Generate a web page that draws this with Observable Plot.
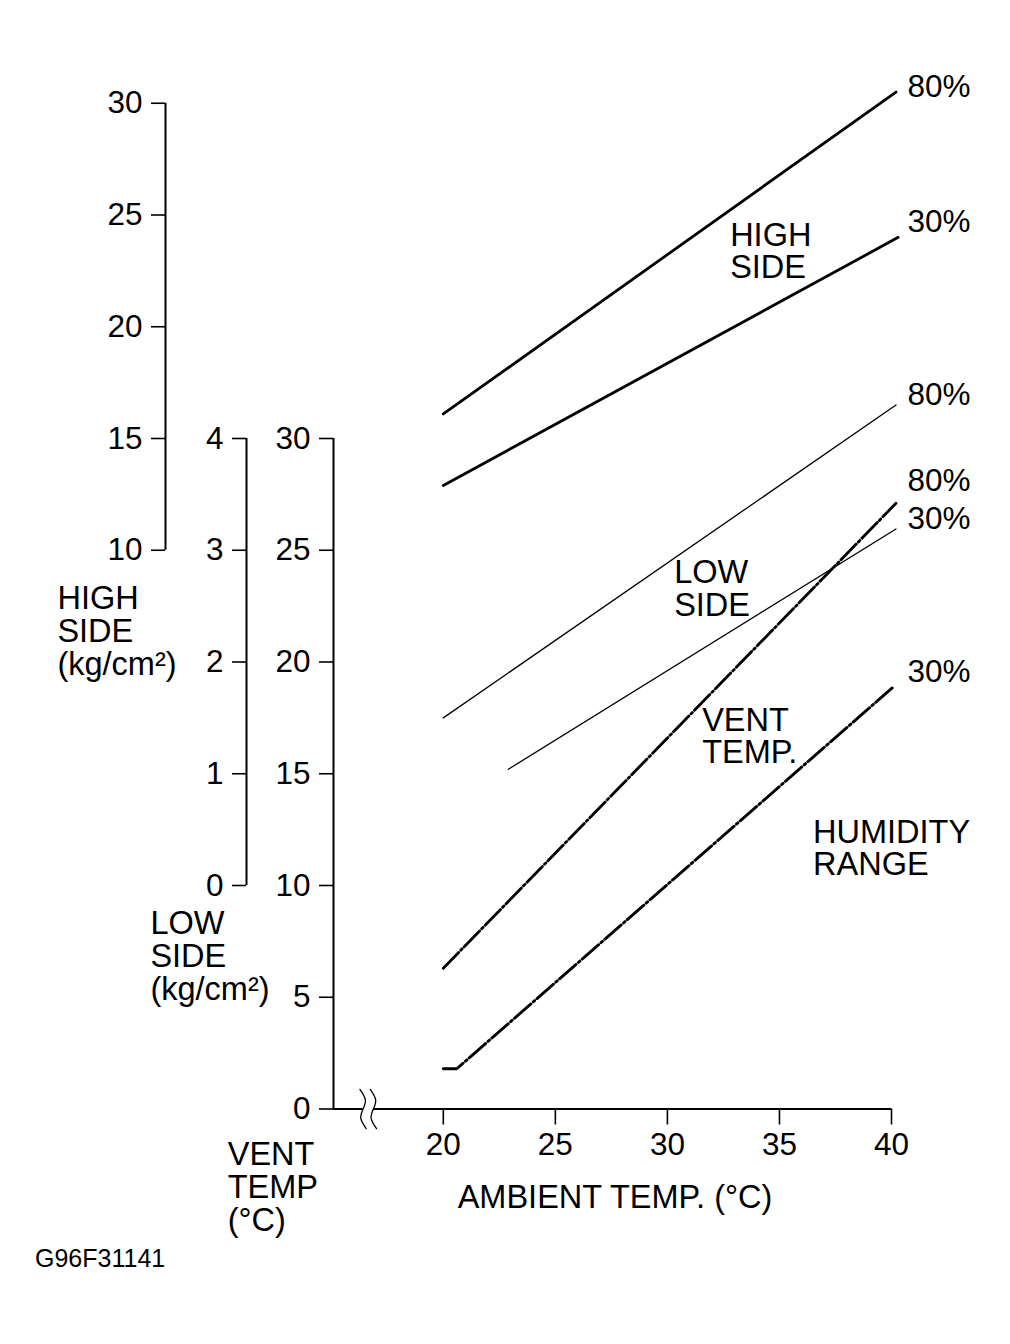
<!DOCTYPE html>
<html>
<head>
<meta charset="utf-8">
<script src="https://cdn.jsdelivr.net/npm/d3@7"></script>
<script src="https://cdn.jsdelivr.net/npm/@observablehq/plot@0.6"></script>
<style>
  html, body { margin: 0; padding: 0; background: #fff; }
  #chart svg { display: block; }
</style>
</head>
<body>
<div id="chart"></div>
<script>
// ---------- data ----------
const ambientTicks = [20, 25, 30, 35, 40];
const ventTicks = [0, 5, 10, 15, 20, 25, 30];
const lowSideTicks = [0, 1, 2, 3, 4];
const highSideTicks = [10, 15, 20, 25, 30];

// HIGH SIDE pressure (kg/cm²)
const high80Ambient = [20, 40.2];
const high80 = [16.1, 30.5];
const high30Ambient = [20, 40.3];
const high30 = [12.9, 24.0];

// LOW SIDE pressure (kg/cm²)
const low80Ambient = [20, 40.2];
const low80 = [1.5, 4.3];
const low30Ambient = [22.9, 40.2];
const low30 = [1.04, 3.19];

// VENT TEMP (°C)
const vent80Ambient = [20, 40.2];
const vent80 = [6.3, 27.1];
const vent30Ambient = [20, 20.6, 40.1];
const vent30 = [1.8, 1.8, 18.9];

const rightLabels = ["80%", "30%", "80%", "80%", "30%", "30%"];
const innerLabels = ["HIGH\nSIDE", "LOW\nSIDE", "VENT\nTEMP.", "HUMIDITY\nRANGE"];
const axisTitles = ["HIGH\nSIDE\n(kg/cm²)", "LOW\nSIDE\n(kg/cm²)", "VENT\nTEMP\n(°C)"];
const xTitle = "AMBIENT TEMP. (°C)";
const figureCode = "G96F31141";

// ---------- gauge → shared vertical scale (vent temp units) ----------
const lowToVent = L => 10 + 5 * L;
const highToVent = h => h + 15;

// ---------- layout ----------
const FONT = "'Liberation Sans', Arial, Helvetica, sans-serif";
const FS = 31.5;   // numbers
const FS_W = 32.5; // words
const X_MIN = 15.1;
const LOW_DX = -87, HIGH_DX = -168;
const rightLabelX = 40.71;
const rightLabelY = [45.75, 39.7, 31.95, 28.1, 26.4, 19.55];
const innerPos = [[32.8, 38.37], [30.3, 23.27], [31.55, 16.67], [36.5, 11.65]];
const titlePos = [[2.78, 21.37], [6.93, 6.82], [10.38, -3.51]];
const xTitlePos = [27.66, -3.95];
const codePos = [1.78, -6.7];
const breakX = [16.42, 16.88];
const breakShape = [[-0.14, 0.88], [0.1, 0.42], [0.0, 0.0], [-0.1, -0.42], [0.14, -0.88]];

// ---------- build tables ----------
const rows = [];
function addSeries(group, humidity, xs, vs, toV) {
  xs.forEach((x, i) => rows.push({group, key: group + humidity, ambient: x, y: toV(vs[i])}));
}
addSeries("high", 80, high80Ambient, high80, highToVent);
addSeries("high", 30, high30Ambient, high30, highToVent);
addSeries("low", 80, low80Ambient, low80, lowToVent);
addSeries("low", 30, low30Ambient, low30, lowToVent);
addSeries("vent", 80, vent80Ambient, vent80, v => v);
addSeries("vent", 30, vent30Ambient, vent30, v => v);

const breakPts = [];
breakX.forEach((bx, j) => breakShape.forEach(([ox, oy]) => breakPts.push({k: j, x: bx + ox, y: oy})));

const rightTable = rightLabels.map((t, i) => ({t, x: rightLabelX, y: rightLabelY[i]}));
const innerTable = innerLabels.map((t, i) => ({t, x: innerPos[i][0], y: innerPos[i][1]}));
const titleTable = axisTitles.map((t, i) => ({t, x: titlePos[i][0], y: titlePos[i][1]}));

const axisCommon = {anchor: "left", tickSize: 14, tickPadding: 9, fontSize: FS, strokeWidth: 1.6, label: null, color: "#000"};

const chart = Plot.plot({
  width: 1010,
  height: 1344,
  marginLeft: 333,
  marginRight: 119,
  marginTop: 438,
  marginBottom: 235.5,
  style: {fontFamily: FONT, fontSize: FS + "px", color: "#000", background: "#fff", overflow: "visible"},
  x: {domain: [X_MIN, 40], label: null},
  y: {domain: [0, 30], label: null},
  marks: [
    // spines
    Plot.ruleX([X_MIN], {y1: 0, y2: 30, strokeWidth: 2, stroke: "#000"}),
    Plot.ruleX([X_MIN], {y1: lowToVent(0), y2: lowToVent(4), dx: LOW_DX, strokeWidth: 2, stroke: "#000"}),
    Plot.ruleX([X_MIN], {y1: highToVent(10), y2: highToVent(30), dx: HIGH_DX, strokeWidth: 2, stroke: "#000"}),
    Plot.ruleY([0], {x1: X_MIN, x2: 40, strokeWidth: 2, stroke: "#000"}),
    // axis break
    Plot.ruleY([0], {x1: breakX[0], x2: breakX[1], strokeWidth: 5, stroke: "#fff"}),
    Plot.line(breakPts, {x: "x", y: "y", z: "k", curve: "natural", stroke: "#000", strokeWidth: 1.3}),
    // axes
    Plot.axisY({...axisCommon, ticks: ventTicks}),
    Plot.axisY({...axisCommon, ticks: lowSideTicks.map(lowToVent), tickFormat: v => (v - 10) / 5, dx: LOW_DX}),
    Plot.axisY({...axisCommon, ticks: highSideTicks.map(highToVent), tickFormat: v => v - 15, dx: HIGH_DX}),
    Plot.axisX({ticks: ambientTicks, anchor: "bottom", tickSize: 16, tickPadding: 8, fontSize: FS, strokeWidth: 1.6, label: null, color: "#000"}),
    // series
    Plot.line(rows.filter(d => d.group === "high"), {x: "ambient", y: "y", z: "key", stroke: "#000", strokeWidth: 2.8}),
    Plot.line(rows.filter(d => d.group === "low"), {x: "ambient", y: "y", z: "key", stroke: "#000", strokeWidth: 1.3}),
    Plot.line(rows.filter(d => d.group === "vent"), {x: "ambient", y: "y", z: "key", stroke: "#000", strokeWidth: 2.8, strokeDasharray: "22,3,2,3"}),
    // labels
    Plot.text(rightTable, {x: "x", y: "y", text: "t", textAnchor: "start", fontSize: FS, fill: "#000"}),
    Plot.text(innerTable, {x: "x", y: "y", text: "t", textAnchor: "start", lineAnchor: "middle", lineHeight: 1.0, fontSize: FS_W, fill: "#000"}),
    Plot.text(titleTable, {x: "x", y: "y", text: "t", textAnchor: "start", lineAnchor: "middle", lineHeight: 1.01, fontSize: FS_W, fill: "#000"}),
    Plot.text([xTitle], {x: () => xTitlePos[0], y: () => xTitlePos[1], text: d => d, textAnchor: "middle", fontSize: FS_W, fill: "#000"}),
    Plot.text([figureCode], {x: () => codePos[0], y: () => codePos[1], text: d => d, textAnchor: "start", fontSize: 25, fill: "#000"})
  ]
});
document.getElementById("chart").appendChild(chart);
</script>
</body>
</html>
